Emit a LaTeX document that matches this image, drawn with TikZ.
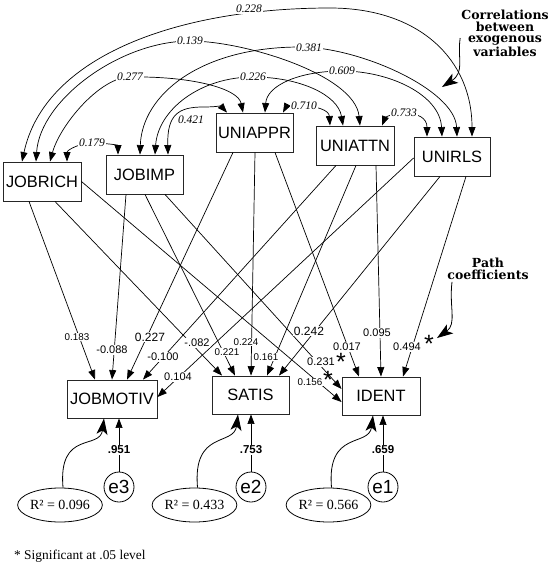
\documentclass[tikz,border=0pt]{standalone}
\usepackage{fontspec}
\setmainfont{Liberation Serif}
\newfontfamily\sansf{Liberation Sans}
\newfontfamily\hdrf{DejaVu Serif}
\usetikzlibrary{arrows.meta,calc,shapes.geometric}
\begin{document}
\begin{tikzpicture}[x=1pt,y=-1pt,
  box/.style={draw=black!85,line width=0.9pt,inner sep=0pt,font=\sansf\fontsize{16.4}{18}\selectfont},
  pth/.style={line width=0.7pt,-{Triangle[length=9.5pt,width=7pt]}},
  corr/.style={line width=0.7pt,{Triangle[length=9.5pt,width=7pt]}-{Triangle[length=9.5pt,width=7pt]}},
  clbl/.style={fill=white,inner sep=1pt,font=\itshape\fontsize{11.5}{12}\selectfont},
  coef/.style={fill=white,inner sep=0.8pt,font=\sansf\fontsize{11}{12}\selectfont},
  coefl/.style={coef,font=\sansf\fontsize{12}{13}\selectfont},
  coefs/.style={coef,font=\sansf\fontsize{9.8}{10}\selectfont},
  star/.style={inner sep=0pt,font=\sansf\fontsize{25}{25}\selectfont},
  rsq/.style={draw,ellipse,line width=0.8pt,minimum width=81pt,minimum height=34pt,inner sep=0pt,font=\fontsize{14}{16}\selectfont},
  err/.style={draw,circle,line width=0.8pt,minimum size=30pt,inner sep=0pt,font=\sansf\fontsize{19}{20}\selectfont},
  elbl/.style={fill=white,inner sep=1pt,font=\sansf\bfseries\fontsize{11.5}{12}\selectfont},
  big/.style={line width=0.8pt,-{Stealth[length=16pt,width=11pt,inset=4pt]}},
  hdr/.style={align=center,inner sep=0pt,font=\hdrf\bfseries\fontsize{12.5}{11.8}\selectfont},
]
\useasboundingbox[fill=white] (0,0) rectangle (553,582);

% boxes
\node[box,minimum width=78pt,minimum height=39pt] (jobrich) at (42,181.5) {JOBRICH};
\node[box,minimum width=77pt,minimum height=39pt] (jobimp) at (144.5,174.5) {JOBIMP};
\node[box,minimum width=77pt,minimum height=39pt] (uniappr) at (254.5,132.5) {UNIAPPR};
\node[box,minimum width=78pt,minimum height=39pt] (uniattn) at (355,145.5) {UNIATTN};
\node[box,minimum width=76pt,minimum height=39pt] (unirls) at (452,156.5) {UNIRLS};
\node[box,minimum width=90pt,minimum height=38pt] (jobmotiv) at (112,399) {JOBMOTIV};
\node[box,minimum width=77pt,minimum height=38pt] (satis) at (250.5,395) {SATIS};
\node[box,minimum width=78pt,minimum height=38pt] (ident) at (381,396) {IDENT};

% correlations (double-headed arcs)
\draw[corr] ([xshift=-20pt]jobrich.north) .. controls (45,55) and (180,8) .. (330,8) .. controls (420,8) and (472,60) .. ([xshift=20pt]unirls.north);
\draw[corr] ([xshift=-6pt]jobrich.north) .. controls (40,100) and (120,41) .. (190,41) .. controls (245,41) and (355,75) .. ([xshift=5pt]uniattn.north);
\draw[corr] ([xshift=8pt]jobrich.north) .. controls (60,125) and (100,77) .. (130,77) .. controls (190,76) and (238,88) .. ([xshift=-11.5pt]uniappr.north);
\draw[corr] ([xshift=25pt]jobrich.north) .. controls (67,150) and (80,143) .. (92,143) .. controls (104,143) and (118,145) .. ([xshift=-26.5pt]jobimp.north);
\draw[corr] ([xshift=23.5pt]jobimp.north) .. controls (167,115) and (178,107) .. (203,107) .. controls (214,107) and (221,106) .. ([xshift=-27.5pt]uniappr.north);
\draw[corr] ([xshift=10.5pt]jobimp.north) .. controls (158,110) and (200,77) .. (253,77) .. controls (300,77) and (338,95) .. ([xshift=-12pt]uniattn.north);
\draw[corr] ([xshift=-4.5pt]jobimp.north) .. controls (142,95) and (200,47) .. (300,47) .. controls (360,47) and (455,90) .. ([xshift=5pt]unirls.north);
\draw[corr] ([xshift=28.5pt]uniappr.north) .. controls (286,107) and (293,106) .. (303,106) .. controls (316,106) and (329,110) .. ([xshift=-25pt]uniattn.north);
\draw[corr] ([xshift=10.5pt]uniappr.north) .. controls (267,85) and (300,71) .. (342,71) .. controls (390,71) and (440,95) .. ([xshift=-10pt]unirls.north);
\draw[corr] ([xshift=27pt]uniattn.north) .. controls (385,118) and (392,113) .. (403,113) .. controls (418,113) and (427,118) .. ([xshift=-25pt]unirls.north);

\node[clbl] (c228) at (249,9) {0.228};
\node[clbl] (c139) at (190,41) {0.139};
\node[clbl] (c277) at (130,77) {0.277};
\node[clbl] (c179) at (92,143) {0.179};
\node[clbl] (c421) at (191,120) {0.421};
\node[clbl] (c226) at (253,77) {0.226};
\node[clbl] (c381) at (309,48) {0.381};
\node[clbl] (c710) at (304,106) {0.710};
\node[clbl] (c609) at (342,71) {0.609};
\node[clbl] (c733) at (404,113) {0.733};

% path coefficients
\draw[pth] ([xshift=-13pt]jobrich.south) -- ([xshift=-17pt]jobmotiv.north);
\draw[pth] ([xshift=13pt]jobrich.south) -- ([xshift=-28.5pt]satis.north);
\draw[pth] (jobrich.east) -- ([yshift=-6pt]ident.west);
\draw[pth] ([xshift=-18.5pt]jobimp.south) -- (jobmotiv.north);
\draw[pth] ([xshift=0.5pt]jobimp.south) -- ([xshift=-15.5pt]satis.north);
\draw[pth] ([xshift=20.5pt]jobimp.south) -- ([yshift=7pt]ident.west);
\draw[pth] ([xshift=-21.5pt]uniappr.south) -- ([xshift=15pt]jobmotiv.north);
\draw[pth] ([xshift=0.5pt]uniappr.south) -- ([xshift=0.5pt]satis.north);
\draw[pth] ([xshift=20.5pt]uniappr.south) -- ([xshift=-22pt]ident.north);
\draw[pth] ([xshift=-19pt]uniattn.south) -- ([xshift=31pt]jobmotiv.north);
\draw[pth] ([xshift=1pt]uniattn.south) -- ([xshift=16.5pt]satis.north);
\draw[pth] ([xshift=21pt]uniattn.south) -- (ident.north);
\draw[pth] ([yshift=-1.5pt]unirls.west) -- ([yshift=2pt]jobmotiv.east);
\draw[pth] ([xshift=-12pt]unirls.south) -- ([xshift=28.5pt]satis.north);
\draw[pth] ([xshift=14pt]unirls.south) -- ([xshift=22pt]ident.north);

\node[coefs] (p1) at (77,337) {0.183};
\node[coef] (p2) at (112,350) {-0.088};
\node[coefl] (p3) at (150,337) {0.227};
\node[coef] (p4) at (163,357) {-0.100};
\node[coef] (p5) at (178,377) {0.104};
\node[coef] (p6) at (197,343) {-.082};
\node[coefs] (p7) at (227,352) {0.221};
\node[coefs] (p8) at (246,342) {0.224};
\node[coefs] (p9) at (266,357) {0.161};
\node[coefl] (p10) at (309,331) {0.242};
\node[coef] (p11) at (347,347) {0.017};
\node[coef] (p12) at (377,333) {0.095};
\node[coef] (p13) at (407,347) {0.494};
\node[coef] (p14) at (321,362) {0.231};
\node[coefs] (p15) at (310,382) {0.156};
\node[star] (s1) at (429,344) {*};
\node[star] (s2) at (341,362) {*};
\node[star] (s3) at (328,380) {*};

% error terms and R squared
\node[rsq] (r3) at (60,505) {R² = 0.096};
\node[rsq] (r2) at (194.5,505) {R² = 0.433};
\node[rsq] (r1) at (328.5,505) {R² = 0.566};
\node[err] (e3) at (119,487) {e3};
\node[err] (e2) at (251,487) {e2};
\node[err] (e1) at (383,487) {e1};
\draw[pth] (e3.north) -- (e3.north |- jobmotiv.south);
\draw[pth] (e2.north) -- (e2.north |- satis.south);
\draw[pth] (e1.north) -- (e1.north |- ident.south);
\node[elbl] (w3) at (119,450) {.951};
\node[elbl] (w2) at (251,450) {.753};
\node[elbl] (w1) at (383,450) {.659};
\draw[big] ([xshift=3pt]r3.north) .. controls +(-5,-58) and +(-4,32) .. ([xshift=-8pt]jobmotiv.south);
\draw[big] ([xshift=3pt]r2.north) .. controls +(-5,-58) and +(-4,32) .. ([xshift=-12.5pt]satis.south);
\draw[big] ([xshift=3pt]r1.north) .. controls +(-5,-58) and +(-4,32) .. ([xshift=-8pt]ident.south);

% annotations
\node[hdr] (corrhdr) at (505,33) {Correlations\\between\\exogenous\\variables};
\coordinate (corrtip) at (442,87);
\draw[big] ([xshift=-1pt,yshift=-5pt]corrhdr.west) .. controls +(-3,20) and +(23,-15) .. (corrtip);
\node[hdr] (pathhdr) at (488,269) {Path\\coefficients};
\coordinate (pathtip) at (437,338);
\draw[big] ([xshift=-36pt,yshift=-2pt]pathhdr.south) .. controls +(-3,25) and +(20,-14) .. (pathtip);
\node[anchor=west,inner sep=0pt,font=\fontsize{13.4}{15}\selectfont] (note) at (14,556) {* Significant at .05 level};
\end{tikzpicture}
\end{document}
